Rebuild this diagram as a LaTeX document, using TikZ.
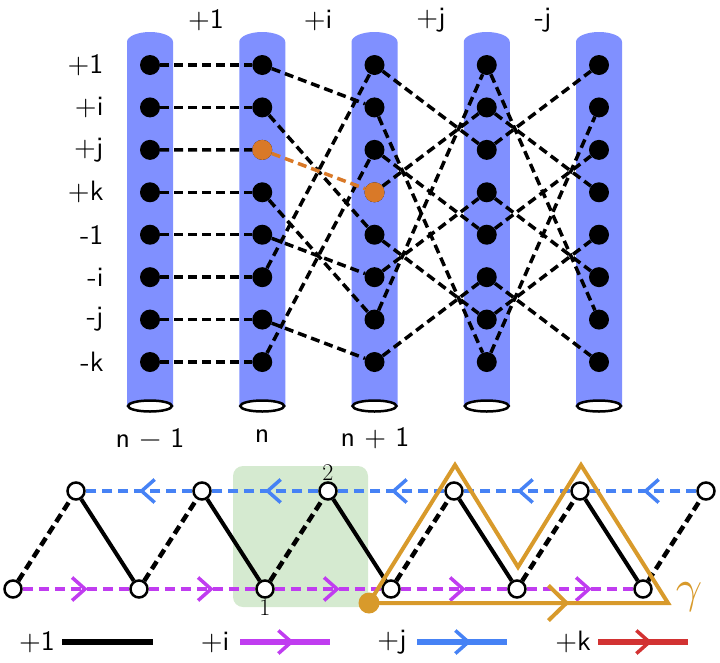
\documentclass[tikz,border=0pt]{standalone}
\usepackage{amsmath}
\usepackage{fontspec}
\setsansfont{lmsans10-regular.otf}
\usepackage{xcolor}
\usepackage{tikz}
\usetikzlibrary{arrows.meta,decorations.markings,positioning}

\definecolor{tubeblue}{RGB}{128,144,255}
\definecolor{dotorange}{RGB}{217,121,40}
\definecolor{pathgold}{RGB}{216,154,43}
\definecolor{linepurple}{RGB}{192,60,240}
\definecolor{lineblue}{RGB}{70,130,245}
\definecolor{linered}{RGB}{210,50,50}
\definecolor{boxgreen}{RGB}{213,234,208}

\begin{document}
\begin{tikzpicture}[x=1pt,y=-1pt,
		every node/.style={font=\sffamily\fontsize{28}{30}\selectfont},
		dot/.style={circle,fill=black,inner sep=0pt,minimum size=20pt},
		hollow/.style={circle,draw=black,fill=white,line width=2.5pt,inner sep=0pt,minimum size=17pt},
		link/.style={line width=3.5pt,dash pattern=on 9pt off 5pt},
		kink/.style={line width=4.5pt,dash pattern=on 9pt off 5pt},
		bond/.style={line width=4pt},
		hop/.style={line width=4.5pt,dash pattern=on 10pt off 6pt},
		barb/.tip={Straight Barb[length=13pt,width=23pt,line width=3.5pt]},
		midtip/.style={postaction={decorate},decoration={markings,mark=at position #1 with {\arrow{barb}}}},
		numlab/.style={font=\rmfamily\fontsize{24}{26}\selectfont,inner sep=1pt}]
	\useasboundingbox (0,0) rectangle (720,662);
	% tubes
	\foreach \c/\x in {1/150,2/262.25,3/374.5,4/486.75,5/599}{
		\fill[tubeblue] (\x-23,406) -- (\x-23,42) arc[start angle=180,end angle=0,x radius=23pt,y radius=10pt] -- (\x+23,406) -- cycle;
		\draw[line width=2.5pt,fill=white] (\x,406) ellipse[x radius=22pt,y radius=5.5pt];
		\foreach \r in {1,...,8}
			\node[dot] (q\c\r) at (\x,{65+(\r-1)*42.43}) {};
	}
	\node[dot,fill=dotorange] (q23) at (262.25,149.86) {};
	\node[dot,fill=dotorange] (q34) at (374.5,192.29) {};
	% labels
	\foreach \r/\t in {1/+1,2/+i,3/+j,4/+k,5/-1,6/-i,7/-j,8/-k}
		\node[anchor=east] (row\r) at (107,{65+(\r-1)*42.43}) {\t};
	\node (top1) at (206,20) {+1};
	\node (top2) at (318,20) {+i};
	\node (top3) at (431,20) {+j};
	\node (top4) at (543,20) {-j};
	\node (bot1) at (150,438) {n − 1};
	\node (bot2) at (262,436) {n};
	\node (bot3) at (375,438) {n + 1};
	% connections
	\foreach \r in {1,...,8}
		\draw[link] (q1\r) -- (q2\r);
	\foreach \a/\b in {1/2,2/5,4/7,5/6,6/1,7/8,8/3}
		\draw[link] (q2\a) -- (q3\b);
	\draw[link,dotorange] (q23) -- (q34);
	\foreach \a/\b in {1/3,2/8,3/5,4/2,5/7,6/4,7/1,8/6}
		\draw[link] (q3\a) -- (q4\b);
	\foreach \a/\b in {1/7,2/4,3/1,4/6,5/3,6/8,7/5,8/2}
		\draw[link] (q4\a) -- (q5\b);

	% chain
	\fill[boxgreen,rounded corners=10pt] (233,466) rectangle (368,607);
	\foreach \k/\x in {0/13,1/139,2/265,3/391,4/517,5/643}{
		\node[hollow] (l\k) at (\x,589) {};
		\node[hollow] (u\k) at (\x+63,491) {};
	}
	\node[numlab,below=0pt of l2] (one) {1};
	\node[numlab,above=0pt of u2] (two) {2};
	\foreach \a/\b in {0/1,1/2,2/3,3/4,4/5}{
		\draw[hop,linepurple,midtip=0.61] (l\a) -- (l\b);
		\draw[hop,lineblue,midtip=0.5] (u\b) -- (u\a);
		\draw[bond] (u\a) -- (l\b);
	}
	\foreach \k in {0,...,5}
		\draw[kink] (l\k) -- (u\k);
	% loop
	\node[circle,fill=pathgold,inner sep=0pt,minimum size=21pt] (gdot) at (369,603) {};
	\coordinate (g1) at (668,603);
	\coordinate (g2) at (581,465);
	\coordinate (g3) at (518,567);
	\coordinate (g4) at (455,465);
	\draw[pathgold,line width=4pt,line join=miter] (gdot.center) -- (g1) -- (g2) -- (g3) -- (g4) -- cycle;
	\draw[pathgold,line width=4pt,postaction={decorate},decoration={markings,mark=at position 0.67 with {\arrow{Straight Barb[length=18pt,width=35pt,line width=4pt]}}}] (gdot.center) -- (g1);
	\node[text=pathgold,font=\normalsize,scale=4.6] (gam) at (689,597) {$\gamma$};
	% legend
	\node (key1) at (37,642) {+1};
	\node (key2) at (215,642) {+i};
	\node (key3) at (392,642) {+j};
	\node (key4) at (573,642) {+k};
	\coordinate (k1a) at (62,642);
	\coordinate (k1b) at (153,642);
	\coordinate (k2a) at (240,642);
	\coordinate (k2b) at (330,642);
	\coordinate (k3a) at (417,642);
	\coordinate (k3b) at (507,642);
	\coordinate (k4a) at (598,642);
	\coordinate (k4b) at (688,642);
	\draw[line width=6pt] (k1a) -- (k1b);
	\draw[line width=5.5pt,linepurple,midtip=0.6] (k2a) -- (k2b);
	\draw[line width=5.5pt,lineblue,midtip=0.6] (k3a) -- (k3b);
	\draw[line width=5.5pt,linered,midtip=0.6] (k4a) -- (k4b);
\end{tikzpicture}
\end{document}
